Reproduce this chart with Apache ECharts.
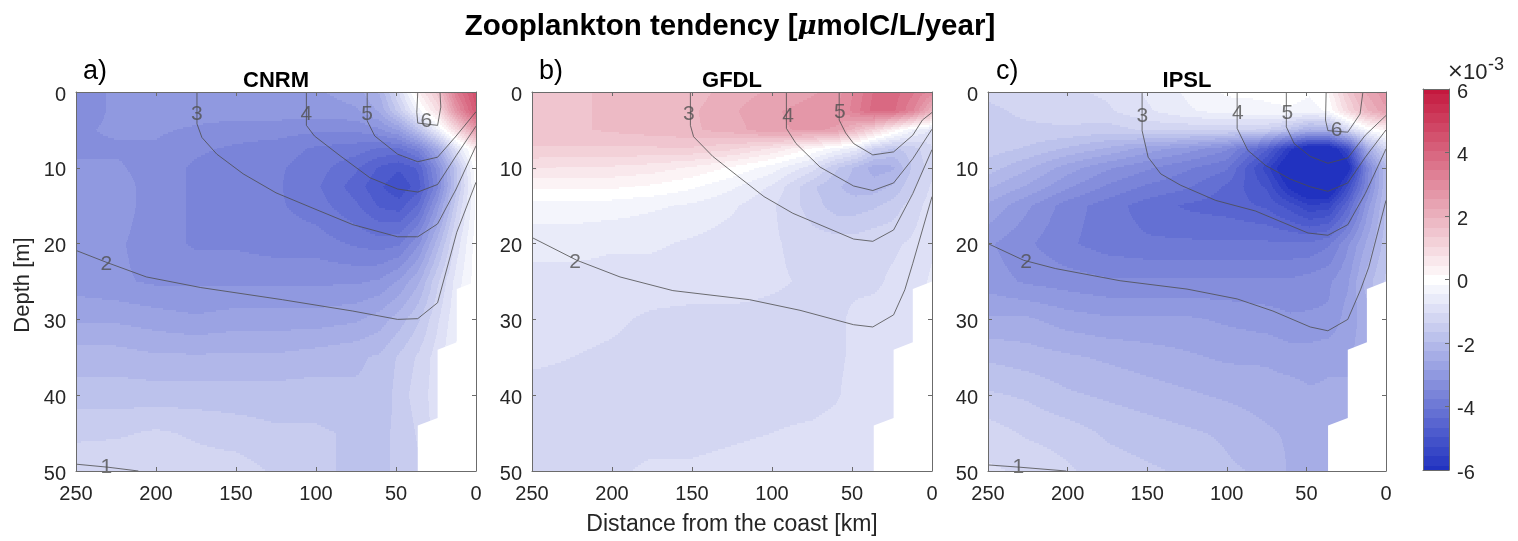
<!DOCTYPE html>
<html><head><meta charset="utf-8">
<style>html,body{margin:0;padding:0;background:#fff}#c{width:1518px;height:541px}</style>
<script src="https://cdn.jsdelivr.net/npm/echarts@6/dist/echarts.min.js"></script>
</head><body><div id="c"></div>
<script>
const distanceKm=[250,225,200,175,150,125,100,75,60,48,36,24,12,0];
const depthM=[0,2.5,5,7.5,10,12.5,15,20,25,30,35,40,45,50];
const xTicks={min:0,max:250,interval:50};
const yTicks={min:0,max:50,interval:10};
const cnrmField=[
[-3.3,-3.1,-3.0,-3.0,-3.0,-3.0,-2.9,-2.7,-2.2,-1.0,0.4,1.5,3.5,4.6],
[-3.3,-3.1,-3.0,-3.0,-3.0,-3.0,-3.0,-2.9,-2.5,-1.5,-0.3,0.8,2.8,4.3],
[-3.2,-3.1,-3.1,-3.2,-3.3,-3.3,-3.4,-3.4,-3.2,-2.8,-1.8,-0.5,1.0,2.6],
[-3.2,-3.2,-3.2,-3.4,-3.5,-3.6,-3.8,-3.9,-4.1,-4.1,-3.6,-2.5,-0.8,0.4],
[-3.1,-3.1,-3.3,-3.5,-3.6,-3.7,-3.9,-4.3,-4.7,-4.9,-4.6,-3.3,-1.7,0.1],
[-3.0,-3.0,-3.3,-3.5,-3.6,-3.7,-4.0,-4.5,-4.9,-5.2,-4.8,-3.5,-1.7,-0.1],
[-3.0,-3.0,-3.3,-3.5,-3.6,-3.7,-3.9,-4.3,-4.7,-4.8,-4.3,-3.0,-1.4,-0.1],
[-3.0,-3.1,-3.3,-3.5,-3.5,-3.6,-3.6,-3.8,-3.9,-3.8,-3.2,-2.1,-0.9,0],
[-3.0,-3.1,-3.2,-3.2,-3.2,-3.2,-3.2,-3.2,-3.1,-2.8,-2.3,-1.4,-0.6,0],
[-2.6,-2.6,-2.7,-2.8,-2.7,-2.7,-2.7,-2.6,-2.4,-2.1,-1.7,-1.1,-0.5,0],
[-2.1,-2.1,-2.2,-2.2,-2.2,-2.2,-2.1,-2.0,-1.9,-1.6,-1.3,-0.9,-0.4,0],
[-1.8,-1.8,-1.8,-1.8,-1.8,-1.8,-1.8,-1.9,-1.9,-1.5,-1.2,-0.9,-0.4,0],
[-1.4,-1.4,-1.3,-1.4,-1.5,-1.6,-1.6,-1.7,-1.7,-1.6,-1.3,-0.9,-0.4,0],
[-1.2,-1.1,-1.1,-1.2,-1.2,-1.4,-1.6,-1.7,-1.7,-1.6,-1.4,-0.9,-0.4,0]];
const gfdlField=[
[1.6,1.6,1.7,1.8,1.8,2.1,2.3,2.5,2.7,3.2,3.8,3.9,3.5,3.0],
[1.6,1.6,1.7,1.8,1.9,2.2,2.5,2.7,2.8,3.3,3.9,3.8,3.2,2.0],
[1.6,1.6,1.7,1.8,1.9,2.1,2.5,2.6,2.5,1.8,1.1,0.3,-0.4,-0.8],
[1.3,1.3,1.3,1.3,1.3,1.1,0.7,0.1,-0.3,-0.6,-1.4,-1.7,-1.5,-1.1],
[0.8,0.7,0.7,0.6,0.4,0.1,-0.3,-0.9,-1.6,-2.0,-2.4,-2.3,-1.6,-1.2],
[0.2,0.2,0.2,0.1,-0.1,-0.4,-0.8,-1.6,-1.9,-2.1,-2.1,-1.9,-1.4,-1.0],
[-0.3,-0.3,-0.3,-0.4,-0.5,-0.7,-1.0,-1.5,-1.8,-1.8,-1.7,-1.5,-1.2,-0.9],
[-0.6,-0.6,-0.7,-0.7,-0.8,-0.9,-1.0,-1.2,-1.2,-1.2,-1.1,-1.1,-1.0,-0.8],
[-0.9,-0.9,-0.9,-0.9,-0.9,-0.9,-1.0,-1.1,-1.1,-1.1,-1.1,-1.0,-0.9,-0.7],
[-0.9,-0.95,-1.0,-1.1,-1.15,-1.15,-1.15,-1.15,-1.1,-1.0,-0.95,-0.9,-0.85,-0.8],
[-1.0,-1.05,-1.1,-1.15,-1.15,-1.15,-1.15,-1.15,-1.1,-1.0,-0.95,-0.9,-0.85,-0.8],
[-1.15,-1.15,-1.15,-1.15,-1.15,-1.15,-1.15,-1.15,-1.08,-0.95,-0.9,-0.9,-0.85,-0.8],
[-1.15,-1.15,-1.15,-1.15,-1.15,-1.1,-1.05,-1.0,-0.95,-0.9,-0.9,-0.9,-0.85,-0.8],
[-1.15,-1.15,-1.1,-1.0,-1.0,-0.95,-0.9,-0.9,-0.9,-0.9,-0.9,-0.9,-0.85,-0.8]];
const ipslField=[
[-1.3,-1.2,-1.1,-1.0,-0.7,-0.4,-0.1,-0.1,0,-0.1,0.2,1.4,2.3,2.8],
[-1.4,-1.3,-1.2,-1.1,-0.8,-0.5,-0.3,-0.2,-0.2,-0.3,-0.1,1.0,1.9,2.5],
[-1.4,-1.4,-1.4,-1.5,-1.3,-1.3,-1.3,-1.4,-1.8,-2.3,-2.2,-1.2,-0.2,0.3],
[-1.5,-1.7,-2.0,-2.3,-2.7,-3.0,-3.4,-4.6,-5.8,-6.5,-6.5,-5.2,-2.5,-1.2],
[-1.8,-2.2,-2.7,-3.1,-3.4,-3.7,-4.0,-5.4,-6.5,-7.0,-7.0,-6.2,-3.6,-2.0],
[-2.2,-2.6,-3.1,-3.5,-3.8,-4.0,-4.4,-5.0,-6.0,-6.6,-6.6,-5.2,-3.5,-2.0],
[-2.6,-3.1,-3.6,-3.9,-4.2,-4.4,-4.5,-4.7,-5.1,-5.5,-5.4,-4.4,-3.0,-1.9],
[-3.1,-3.4,-3.7,-3.9,-4.0,-4.0,-4.0,-4.0,-4.0,-4.0,-3.8,-3.2,-2.5,-1.8],
[-3.0,-3.2,-3.3,-3.4,-3.4,-3.4,-3.4,-3.4,-3.4,-3.3,-3.2,-2.9,-2.1,-1.6],
[-2.5,-2.5,-2.7,-2.8,-2.8,-2.8,-2.9,-3.0,-3.1,-3.1,-3.1,-2.7,-2.4,-1.6],
[-2.0,-2.1,-2.2,-2.3,-2.4,-2.5,-2.6,-2.6,-2.7,-2.7,-2.6,-2.6,-2.4,-1.6],
[-1.6,-1.7,-1.9,-2.0,-2.1,-2.2,-2.3,-2.4,-2.4,-2.5,-2.5,-2.5,-2.4,-1.6],
[-1.2,-1.4,-1.5,-1.7,-1.8,-1.9,-2.0,-2.2,-2.3,-2.4,-2.4,-2.4,-2.4,-1.6],
[-1.0,-1.1,-1.3,-1.5,-1.6,-1.7,-1.9,-2.0,-2.3,-2.4,-2.4,-2.4,-2.4,-1.6]];
const coastMask=[[0,25],[12,26],[12,33],[24,34],[24,43],[36.4,44],[36.4,50],[0,50]];
const cnrmContours=[
[[250,49.1],[230,49.5],[211,50]],
[[250,20.9],[230.6,22.5],[206,24.4],[172,25.8],[121,27.4],[77,28.9],[49,30],[36.4,29.9],[24,27.8],[12,18.5],[0,11.9]],
[[174.4,0],[174.4,4.2],[171.3,6],[162,8.2],[145.5,10.8],[125,13.3],[100,15.5],[77,17.5],[49,19.1],[36.4,19.1],[24,17.4],[12.4,12.8],[0,7.1]],
[[106,0],[106,4.4],[101,5.8],[85,8.4],[66.4,11.3],[49,12.8],[36.4,13.2],[24,12.2],[12.4,8.4],[0,4.5]],
[[68,0],[68,3.8],[63.3,5.8],[49,8.2],[36.4,9.2],[24,8.6],[12.4,5.8],[0,2.6]],
[[36.4,0],[37,2.7],[36.4,4.1],[24,4.4],[22,2],[22.5,0]]];
const gfdlContours=[
[[250,19.2],[222,22.2],[195,24.4],[162,26.2],[114,27.4],[82.5,28.8],[49,30.7],[37,31],[24,29.4],[17,26.1],[12,22.6],[0,13.8]],
[[151,0],[151,4.4],[149,5.9],[137,8.5],[122,11],[105,13.8],[87,16],[49,19.4],[37,19.7],[24,18.2],[12,13.4],[0,7.6]],
[[91,0],[91,4.8],[85,6.8],[70,9.9],[49,12.4],[37,13],[24,12],[12,8.8],[0,4.9]],
[[58,0],[58,3.7],[54,5.4],[49,6.8],[37,8.3],[24,7.9],[12,5.7],[6,3.7],[0,2.7]]];
const ipslContours=[
[[250,49.2],[230,49.5],[200.8,50]],
[[250,20],[227.6,22.2],[207.5,23.3],[167,24.9],[125,26],[93.5,27.3],[71,28.9],[47.6,31],[36.5,31.5],[24,30],[16,26.1],[10.8,23.1],[0,14.3]],
[[153.2,0],[153.2,5.1],[149.4,8.6],[141.5,10.8],[129,12.3],[107,14.3],[82,15.7],[49,18.6],[36.5,18.9],[24,17.5],[13,13.4],[0,7.5]],
[[93.5,0],[93.5,4.8],[86.8,7.7],[75.6,9.7],[60,11.5],[47.6,12.5],[36.5,13.1],[24,12],[13,8.6],[0,5]],
[[62.6,0],[62.6,4.6],[57.7,6.8],[47.6,8.5],[36.5,9.4],[24,8.7],[13,5.7],[0,3.1]],
[[37.6,0],[38,3.7],[36.5,5.1],[24,5.3],[16.3,2.9],[14.5,0]]];
const cnrmLabels=[[231,49.5,'1'],[231,22.7,'2'],[174.5,2.9,'3'],[106,2.9,'4'],[68,2.9,'5'],[31,3.9,'6']];
const gfdlLabels=[[223,22.4,'2'],[152,2.9,'3'],[90,3.2,'4'],[57.6,2.7,'5']];
const ipslLabels=[[231,49.5,'1'],[226,22.4,'2'],[153,3.2,'3'],[93,2.8,'4'],[62,2.8,'5'],[31,5,'6']];
const modelNames=['CNRM','GFDL','IPSL'];
const panelTags=['a)','b)','c)'];
const colorbarTicks={min:-6,max:6,interval:2};
const colorStep=0.3;
const xAxisTitle='Distance from the coast [km]';
const yAxisTitle='Depth [m]';

const RED=[196,24,62],BLUE=[33,50,192],TXT='#262626',AX='#6b6b6b';
function col(v){
  const q=Math.max(-6,Math.min(6,Math.round(v/colorStep)*colorStep));
  const e=q<0?BLUE:RED,t=Math.abs(q)/6;
  return 'rgb('+[0,1,2].map(i=>Math.round(255+(e[i]-255)*t)).join(',')+')';
}
const fields=[cnrmField,gfdlField,ipslField];
const contours=[cnrmContours,gfdlContours,ipslContours];
const labels=[cnrmLabels,gfdlLabels,ipslLabels];
const lefts=[76,532,988],widths=[400,400,398],gridTop=92,gridHeight=379;

function cellData(f){
  const out=[];
  for(let j=0;j<depthM.length-1;j++)for(let i=0;i<distanceKm.length-1;i++)
    out.push([distanceKm[i],distanceKm[i+1],depthM[j],depthM[j+1],f[j][i],f[j][i+1],f[j+1][i],f[j+1][i+1]]);
  return out;
}
function renderCell(p,api){
  const [x0,x1,y0,y1]=[0,1,2,3].map(k=>api.value(k));
  const v=[4,5,6,7].map(k=>api.value(k));
  const a=api.coord([x0,y0]),b=api.coord([x1,y1]);
  const pl=Math.round(a[0]),pr=Math.round(b[0]),pt=Math.round(a[1]),pb=Math.round(b[1]);
  const ch=[];
  for(let py=pt;py<pb;py+=2){
    const h=Math.min(2,pb-py),ty=(py+h/2-a[1])/(b[1]-a[1]);
    let start=pl,cur=null;
    for(let px=pl;px<=pr;px++){
      let c=null;
      if(px<pr){const tx=(px+0.5-a[0])/(b[0]-a[0]);
        c=col((v[0]*(1-tx)+v[1]*tx)*(1-ty)+(v[2]*(1-tx)+v[3]*tx)*ty);}
      if(c!==cur){
        if(cur)ch.push({type:'rect',shape:{x:start,y:py,width:px-start,height:h},style:{fill:cur},silent:true});
        start=px;cur=c;
      }
    }
  }
  return {type:'group',children:ch,silent:true};
}
function renderMask(p,api){
  return {type:'polygon',shape:{points:coastMask.map(q=>api.coord(q))},style:{fill:'#fff'},silent:true};
}
const font='"Liberation Sans",Arial,sans-serif';
const grid=[],xAxis=[],yAxis=[],series=[];
const title=[{text:'Zooplankton tendency [{m|μ}molC/L/year]',left:730,top:12,padding:0,textAlign:'center',
  textStyle:{fontFamily:font,fontSize:29.5,fontWeight:'bold',color:'#000',
    rich:{m:{fontFamily:'"DejaVu Serif",serif',fontStyle:'italic',fontSize:26,fontWeight:'bold',color:'#000'}}}}];
modelNames.forEach((name,i)=>{
  grid.push({left:lefts[i],top:gridTop,width:widths[i],height:gridHeight,containLabel:false});
  const tick={show:true,inside:true,length:4,lineStyle:{color:AX,width:1}};
  const line={show:true,onZero:false,lineStyle:{color:AX,width:1}};
  const lab={color:TXT,fontFamily:font,fontSize:20};
  xAxis.push({gridIndex:i,type:'value',inverse:true,...xTicks,position:'bottom',z:10,axisLine:line,axisTick:tick,splitLine:{show:false},
    axisLabel:{...lab,margin:13,showMinLabel:true,showMaxLabel:true},
    ...(i===1?{name:xAxisTitle,nameLocation:'middle',nameGap:42,nameTextStyle:{color:TXT,fontFamily:font,fontSize:23}}:{})});
  xAxis.push({gridIndex:i,type:'value',inverse:true,...xTicks,position:'top',z:10,axisLine:line,axisTick:tick,axisLabel:{show:false},splitLine:{show:false}});
  yAxis.push({gridIndex:i,type:'value',inverse:true,...yTicks,position:'left',z:10,axisLine:line,axisTick:tick,splitLine:{show:false},
    axisLabel:{...lab,margin:10,verticalAlign:'top',lineHeight:6,showMinLabel:true,showMaxLabel:true},
    ...(i===0?{name:yAxisTitle,nameLocation:'middle',nameGap:42,nameRotate:90,nameTextStyle:{color:TXT,fontFamily:font,fontSize:22,padding:[0,7,0,0]}}:{})});
  yAxis.push({gridIndex:i,type:'value',inverse:true,...yTicks,position:'right',z:10,axisLine:line,axisTick:tick,axisLabel:{show:false},splitLine:{show:false}});
  const xi=2*i,yi=2*i;
  series.push({type:'custom',name:name,xAxisIndex:xi,yAxisIndex:yi,data:cellData(fields[i]),renderItem:renderCell,
    encode:{x:[0,1],y:[2,3]},z:2,silent:true,animation:false,clip:true,progressive:0});
  series.push({type:'custom',xAxisIndex:xi,yAxisIndex:yi,data:[[0,0]],renderItem:renderMask,encode:{x:0,y:1},z:3,silent:true,animation:false});
  contours[i].forEach(c=>series.push({type:'line',xAxisIndex:xi,yAxisIndex:yi,data:c,showSymbol:false,symbol:'none',smooth:false,z:4,silent:true,animation:false,
    lineStyle:{color:'#4d4d4d',width:0.8}}));
  series.push({type:'scatter',xAxisIndex:xi,yAxisIndex:yi,data:labels[i],symbolSize:1,itemStyle:{color:'rgba(0,0,0,0)'},z:5,silent:true,animation:false,
    label:{show:true,position:'inside',formatter:q=>q.data[2],color:'#505050',fontFamily:font,fontSize:21}});
  title.push({text:name,left:lefts[i]+widths[i]/2,top:70,padding:0,textAlign:'center',textStyle:{fontFamily:font,fontSize:22,fontWeight:'bold',color:'#000'}});
  title.push({text:panelTags[i],left:lefts[i]+7+(i===2?1:0),top:58,padding:0,textStyle:{fontFamily:font,fontSize:27,fontWeight:'normal',color:'#000'}});
});
// colour bar
const cbBands=[];
for(let k=-20;k<=20;k++){cbBands.push([Math.max(-6,(k-0.5)*colorStep),Math.min(6,(k+0.5)*colorStep),k*colorStep]);}
grid.push({left:1423,top:89,width:26,height:381});
xAxis.push({gridIndex:3,type:'value',min:0,max:1,position:'bottom',z:10,axisLine:{show:true,onZero:false,lineStyle:{color:AX}},axisTick:{show:false},axisLabel:{show:false},splitLine:{show:false}});
xAxis.push({gridIndex:3,type:'value',min:0,max:1,position:'top',z:10,axisLine:{show:true,onZero:false,lineStyle:{color:AX}},axisTick:{show:false},axisLabel:{show:false},splitLine:{show:false}});
yAxis.push({gridIndex:3,type:'value',...colorbarTicks,position:'right',z:10,axisLine:{show:true,onZero:false,lineStyle:{color:AX}},axisTick:{show:true,inside:true,length:4,lineStyle:{color:AX}},
  axisLabel:{color:TXT,fontFamily:font,fontSize:20,margin:8,verticalAlign:'top',lineHeight:6,showMinLabel:true,showMaxLabel:true},splitLine:{show:false}});
yAxis.push({gridIndex:3,type:'value',...colorbarTicks,position:'left',z:10,axisLine:{show:true,onZero:false,lineStyle:{color:AX}},axisTick:{show:false},axisLabel:{show:false},splitLine:{show:false}});
series.push({type:'custom',xAxisIndex:6,yAxisIndex:6,data:cbBands,encode:{y:[0,1]},z:2,silent:true,animation:false,
  renderItem:(p,api)=>{
    const a=api.coord([0,api.value(1)]),b=api.coord([1,api.value(0)]);
    return {type:'rect',shape:{x:a[0],y:Math.floor(a[1]),width:b[0]-a[0],height:Math.ceil(b[1])-Math.floor(a[1])},style:{fill:col(api.value(2))},silent:true};
  }});
title.push({text:'×',left:1447,top:62,padding:0,textStyle:{fontFamily:'"DejaVu Sans",sans-serif',fontSize:20,fontWeight:'normal',color:TXT}});
title.push({text:'10',left:1463,top:62,padding:0,textStyle:{fontFamily:font,fontSize:22,fontWeight:'normal',color:TXT}});
title.push({text:'-3',left:1488,top:56,padding:0,textStyle:{fontFamily:font,fontSize:18,fontWeight:'normal',color:TXT}});

const chart=echarts.init(document.getElementById('c'),null,{renderer:'canvas',width:1518,height:541});
chart.setOption({animation:false,backgroundColor:'#fff',title,grid,xAxis,yAxis,series,tooltip:{show:false}});
</script></body></html>
